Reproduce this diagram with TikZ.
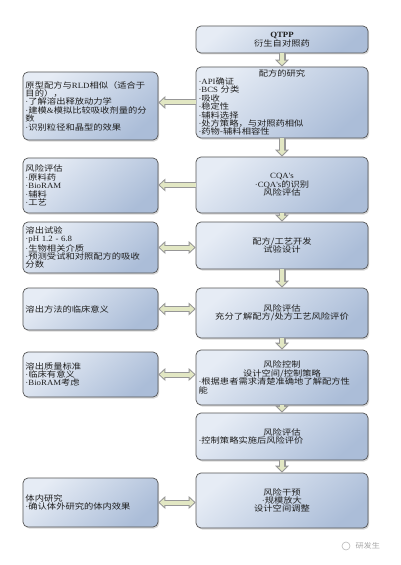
\documentclass[tikz,border=0pt]{standalone}
\usepackage{fontspec}
\setmainfont{Noto Sans CJK SC}[FakeStretch=1.16]
\newfontfamily\latfont{Liberation Serif}[FakeStretch=1.1]
\XeTeXlinebreaklocale "zh"
\usetikzlibrary{arrows.meta,shadows}

\newcommand\la[1]{{\latfont #1}}
\newcommand\dt{{\latfont ·}}

\definecolor{boxlight}{HTML}{E6ECF5}
\definecolor{boxdark}{HTML}{ABBDD8}
\definecolor{boxedge}{HTML}{555555}
\definecolor{arrowfill}{HTML}{E2E7C3}
\definecolor{arrowedge}{HTML}{979797}
\definecolor{inkcol}{HTML}{1E1E1E}

\tikzset{
  card/.style={draw=boxedge, line width=0.7bp, rounded corners=5bp,
    top color=boxlight, bottom color=boxdark, shading angle=40,
    drop shadow={shadow xshift=1.2bp, shadow yshift=-1.5bp, opacity=0.3},
    text=inkcol, inner xsep=2.5bp, inner ysep=1bp,
    font=\fontsize{8bp}{8.4bp}\selectfont,
    execute at begin node={\parindent=0pt}},
  rcard/.style={card, minimum width=172bp, text width=167bp, align=center},
  lcard/.style={card, minimum width=135bp, text width=130bp, align=left},
  vflow/.style={
    preaction={draw=arrowedge, line width=7bp, shorten >=0pt,
      -{Triangle[length=7bp,width=14bp,line width=0pt]}},
    draw=arrowfill, line width=4.8bp, shorten >=1.56bp,
    -{Triangle[length=4.34bp,width=8.7bp,line width=0pt]}},
  hflow/.style={
    preaction={draw=arrowedge, line width=6bp, shorten >=0pt,
      -{Triangle[length=7bp,width=13bp,line width=0pt]}},
    draw=arrowfill, line width=4bp, shorten >=1.47bp,
    -{Triangle[length=4.53bp,width=8.4bp,line width=0pt]}},
  bflow/.style={
    preaction={draw=arrowedge, line width=6bp, shorten >=0pt, shorten <=0pt,
      {Triangle[length=7bp,width=13bp,line width=0pt]}-{Triangle[length=7bp,width=13bp,line width=0pt]}},
    draw=arrowfill, line width=4bp, shorten >=1.47bp, shorten <=1.47bp,
    {Triangle[length=4.53bp,width=8.4bp,line width=0pt]}-{Triangle[length=4.53bp,width=8.4bp,line width=0pt]}},
}

\begin{document}
\begin{tikzpicture}[x=1bp,y=-1bp]
  \fill[white] (0,0) rectangle (400,565);
  \useasboundingbox (0,0) rectangle (400,565);

  % right column
  \node[rcard, minimum height=27bp] (qtpp) at (282,39.5) {\la{\bfseries QTPP}\\衍生自对照药};
  \node[rcard, minimum height=71bp] (study) at (282,102.5) {配方的研究\par
    {\raggedright \dt\la{API}确证\\\dt\la{BCS} 分类\\\dt 吸收\\\dt 稳定性\\\dt 辅料选择\\\dt 处方策略，与对照药相似\\\dt 药物-辅料相容性\par}};
  \node[rcard, minimum height=56bp] (cqa) at (282,185) {\la{CQA's}\\\dt\la{CQA's}的识别\\风险评估};
  \node[rcard, minimum height=47bp] (devel) at (282,245.5) {配方/工艺开发\\试验设计};
  \node[rcard, minimum height=50bp] (assess) at (282,313) {风险评估\\充分了解配方/处方工艺风险评价};
  \node[rcard, minimum height=55bp] (control) at (282,377.5) {风险控制\\设计空间/控制策略\par
    {\raggedright \dt 根据患者需求清楚准确地了解配方性\\能\par}};
  \node[rcard, minimum height=47bp] (reassess) at (282,436.5) {风险评估\par
    {\raggedright \dt 控制策略实施后风险评价\par}};
  \node[rcard, minimum height=55bp] (interv) at (282,500.5) {风险干预\\\dt 规模放大\\设计空间调整};

  % left column
  \node[lcard, minimum height=68bp] (proto) at (90.5,106) {原型配方与\la{RLD}相似（适合于\\目的），\\\dt 了解溶出释放动力学\\\dt 建模\la{\&}模拟比较吸收剂量的分\\数\\\dt 识别粒径和晶型的效果};
  \node[lcard, minimum height=55bp] (riskin) at (90.5,185.5) {风险评估\\\dt 原料药\\\dt\la{BioRAM}\\\dt 辅料\\\dt 工艺};
  \node[lcard, minimum height=51bp] (dissol) at (90.5,247.5) {溶出试验\\\dt\la{pH 1.2 - 6.8}\\\dt 生物相关介质\\\dt 预测受试和对照配方的吸收\\分数};
  \node[lcard, minimum height=42bp] (clinic) at (90.5,309) {溶出方法的临床意义};
  \node[lcard, minimum height=45bp] (dspec) at (90.5,374.5) {溶出质量标准\\\dt 临床有意义\\\dt\la{BioRAM}考虑};
  \node[lcard, minimum height=49bp] (invivo) at (90.5,502.5) {体内研究\\\dt 确认体外研究的体内效果};

  % main flow
  \draw[vflow] (qtpp) -- (study);
  \draw[vflow] (study) -- (cqa);
  \draw[vflow] (cqa) -- (devel);
  \draw[vflow] (devel) -- (assess);
  \draw[vflow] (assess) -- (control);
  \draw[vflow] (control) -- (reassess);
  \draw[vflow] (reassess) -- (interv);

  % side links
  \draw[hflow] (study.west) -- (study.west -| proto.east);
  \draw[hflow] (cqa.west) -- (cqa.west -| riskin.east);
  \draw[bflow] (dissol.east) -- (dissol.east -| devel.west);
  \draw[bflow] (clinic.east) -- (clinic.east -| assess.west);
  \draw[bflow] (dspec.east) -- (dspec.east -| control.west);
  \draw[bflow] (invivo.east) -- (invivo.east -| interv.west);

  % watermark
  \draw[gray!55, line width=0.6bp] (346,546) circle (4bp);
  \node[text=gray!70, font=\fontsize{7bp}{8bp}\selectfont, anchor=west] (mark) at (352,546) {研发生};
\end{tikzpicture}
\end{document}
